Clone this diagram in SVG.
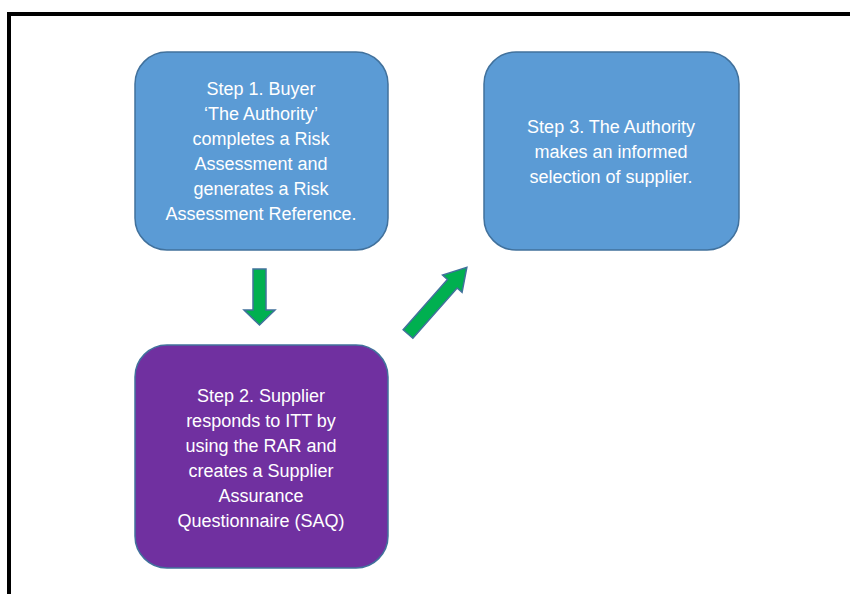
<svg xmlns="http://www.w3.org/2000/svg" width="850" height="594" viewBox="0 0 850 594">
<style>
.box{stroke:#41719C;stroke-width:1.5}
.blue{fill:#5B9BD5}
.purple{fill:#7030A0}
.t{font-family:"Liberation Sans",Arial,sans-serif;font-size:18px;fill:#FFFFFF;text-anchor:middle}
.arrow{fill:#00B050;stroke:#41719C;stroke-width:1.5;stroke-linejoin:miter}
</style>
<rect width="850" height="594" fill="#FFFFFF"/>
<path d="M9 594 V14 H850" fill="none" stroke="#000000" stroke-width="4"/>
<g id="step1">
<rect class="box blue" x="135" y="52" width="253" height="198" rx="32" ry="32"/>
<text class="t" x="261" y="95">Step 1. Buyer</text>
<text class="t" x="261" y="120">‘The Authority’</text>
<text class="t" x="261" y="145">completes a Risk</text>
<text class="t" x="261" y="170">Assessment and</text>
<text class="t" x="261" y="195">generates a Risk</text>
<text class="t" x="261" y="220">Assessment Reference.</text>
</g>
<g id="step2">
<rect class="box purple" x="135" y="345" width="253" height="223" rx="32" ry="32"/>
<text class="t" x="261" y="402">Step 2. Supplier</text>
<text class="t" x="261" y="427">responds to ITT by</text>
<text class="t" x="261" y="452">using the RAR and</text>
<text class="t" x="261" y="477">creates a Supplier</text>
<text class="t" x="261" y="502">Assurance</text>
<text class="t" x="261" y="527">Questionnaire (SAQ)</text>
</g>
<g id="step3">
<rect class="box blue" x="484" y="52" width="255" height="198" rx="32" ry="32"/>
<text class="t" x="611" y="133">Step 3. The Authority</text>
<text class="t" x="611" y="158">makes an informed</text>
<text class="t" x="611" y="183">selection of supplier.</text>
</g>
<g id="connectors">
<polygon class="arrow" points="253,269 266,269 266,310 275,310 259.5,325 244,310 253,310"/>
<polygon class="arrow" transform="translate(408,334) rotate(-48.6)" points="0,-6.5 67,-6.5 67,-13 89,0 67,13 67,6.5 0,6.5"/>
</g>
</svg>
